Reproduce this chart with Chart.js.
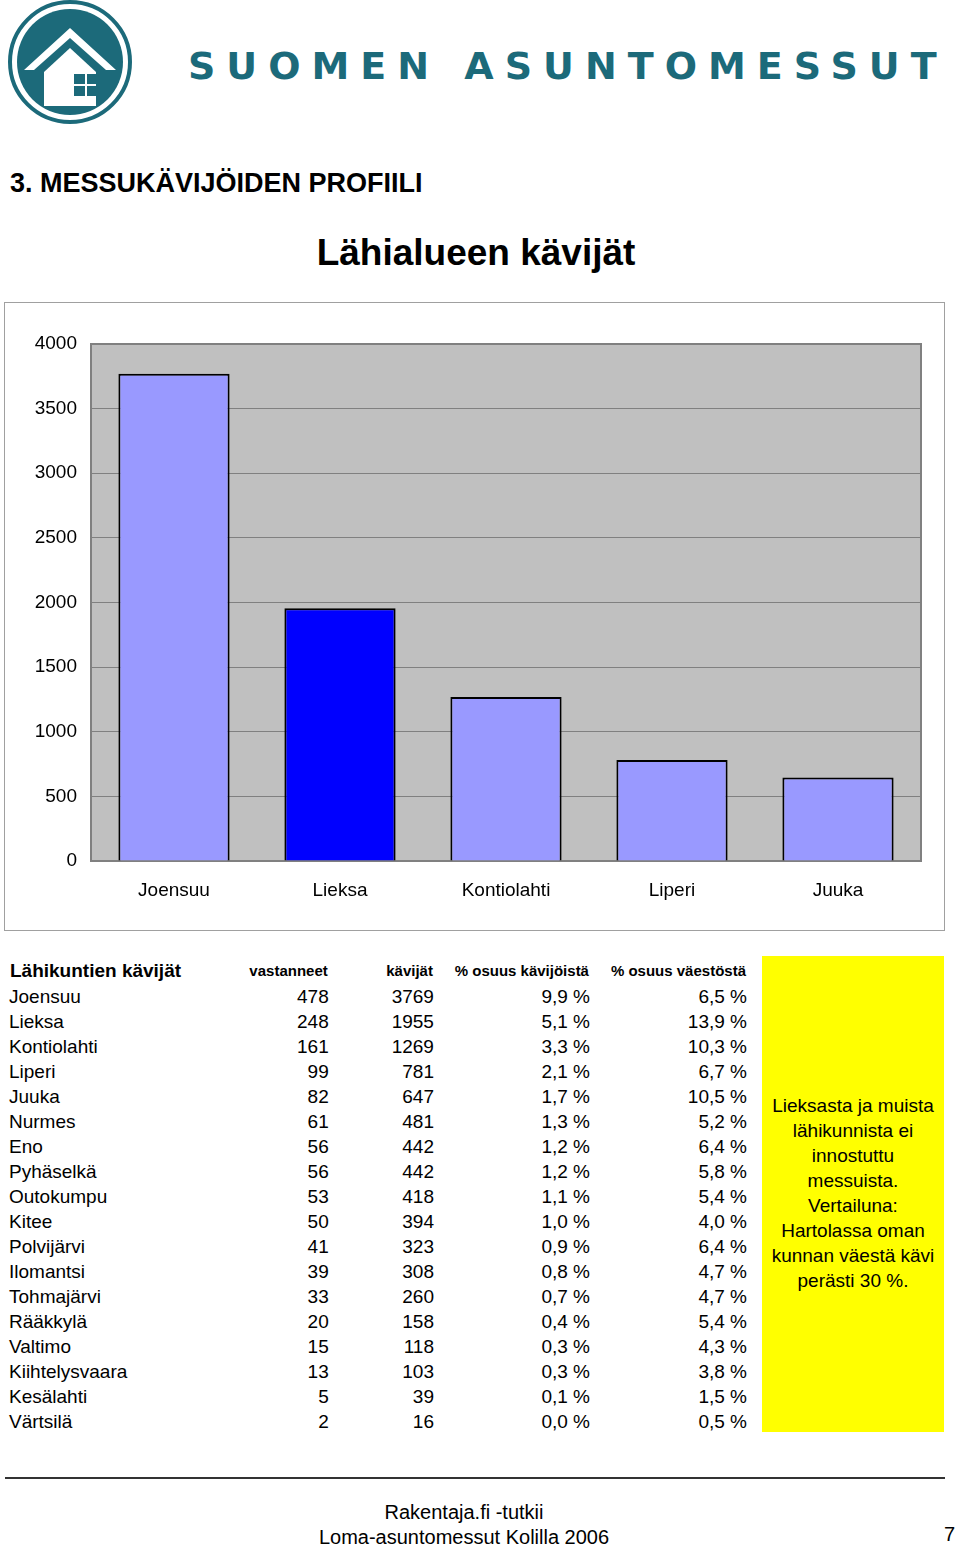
<!DOCTYPE html>
<html>
<head>
<meta charset="utf-8">
<script src="https://cdn.jsdelivr.net/npm/chart.js@4/dist/chart.umd.min.js"></script>
<style>
  body { margin: 0; width: 960px; height: 1545px; position: relative; background: #fff; font-family: "Liberation Sans", Arial, sans-serif; color: #000; overflow: hidden; }
  .abs { position: absolute; }
  #chartBox { left: 4px; top: 302px; width: 939px; height: 627px; border: 1px solid #a0a0a0; }
  table { border-collapse: collapse; }
  td { padding: 0; height: 25px; font-size: 19px; white-space: nowrap; }
  td.n { text-align: right; }
  th { font-size: 15px; text-align: right; font-weight: bold; height: 25px; white-space: nowrap; }
</style>
</head>
<body>
<svg class="abs" style="left:4px;top:0" width="140" height="126">
  <circle cx="66" cy="62" r="60" fill="#fff" stroke="#1c6a7a" stroke-width="4"/>
  <circle cx="66" cy="62" r="53" fill="#1c6a7a"/>
  <path d="M20 70 L66 28 L112 70 L102 70 L66 38 L30 70 Z" fill="#fff"/>
  <path d="M40 72 L66 48 L92 72 L92 106 L40 106 Z" fill="#fff"/>
  <rect x="70" y="74" width="11" height="10" fill="#1c6a7a"/><rect x="83" y="74" width="11" height="10" fill="#1c6a7a"/>
  <rect x="70" y="86" width="11" height="10" fill="#1c6a7a"/><rect x="83" y="86" width="11" height="10" fill="#1c6a7a"/>
</svg>
<div class="abs" style="left:188px;top:44px;font-size:38px;font-weight:bold;color:#1c6a7a;letter-spacing:11px;font-family:'DejaVu Sans',sans-serif;white-space:nowrap">SUOMEN ASUNTOMESSUT</div>
<div class="abs" style="left:10px;top:168px;font-size:27px;font-weight:bold">3. MESSUKÄVIJÖIDEN PROFIILI</div>
<div class="abs" style="left:0;width:952px;top:232px;font-size:37px;font-weight:bold;text-align:center">Lähialueen kävijät</div>
<div id="chartBox" class="abs"><canvas id="chart" width="939" height="627"></canvas></div>

<table class="abs" id="tbl" style="left:9px;top:957px;width:738px"></table>
<div class="abs" style="left:762px;top:956px;width:182px;height:476px;background:#ffff00"></div>
<div class="abs" style="left:766px;top:1093px;width:174px;text-align:center;font-size:19px;line-height:25px">Lieksasta ja muista lähikunnista ei innostuttu messuista.<br>Vertailuna: Hartolassa oman kunnan väestä kävi perästi 30 %.</div>

<div class="abs" style="left:5px;top:1477px;width:940px;height:2px;background:#333"></div>
<div class="abs" style="left:0;width:928px;top:1500px;text-align:center;font-size:20px;line-height:25px">Rakentaja.fi -tutkii<br>Loma-asuntomessut Kolilla 2006</div>
<div class="abs" style="left:944px;top:1523px;font-size:20px">7</div>

<script>
const categories = ["Joensuu", "Lieksa", "Kontiolahti", "Liperi", "Juuka"];
const visitors = [3769, 1955, 1269, 781, 647];
const barColors = ["#9999ff", "#0000ff", "#9999ff", "#9999ff", "#9999ff"];

const towns = ["Joensuu", "Lieksa", "Kontiolahti", "Liperi", "Juuka", "Nurmes", "Eno", "Pyhäselkä", "Outokumpu", "Kitee", "Polvijärvi", "Ilomantsi", "Tohmajärvi", "Rääkkylä", "Valtimo", "Kiihtelysvaara", "Kesälahti", "Värtsilä"];
const respondents = [478, 248, 161, 99, 82, 61, 56, 56, 53, 50, 41, 39, 33, 20, 15, 13, 5, 2];
const townVisitors = [3769, 1955, 1269, 781, 647, 481, 442, 442, 418, 394, 323, 308, 260, 158, 118, 103, 39, 16];
const shareOfVisitors = ["9,9 %", "5,1 %", "3,3 %", "2,1 %", "1,7 %", "1,3 %", "1,2 %", "1,2 %", "1,1 %", "1,0 %", "0,9 %", "0,8 %", "0,7 %", "0,4 %", "0,3 %", "0,3 %", "0,1 %", "0,0 %"];
const shareOfPopulation = ["6,5 %", "13,9 %", "10,3 %", "6,7 %", "10,5 %", "5,2 %", "6,4 %", "5,8 %", "5,4 %", "4,0 %", "6,4 %", "4,7 %", "4,7 %", "5,4 %", "4,3 %", "3,8 %", "1,5 %", "0,5 %"];

const tbl = document.getElementById("tbl");
let html = '<tr><th style="text-align:left;font-size:19px;width:200px">Lähikuntien kävijät</th><th style="width:119px">vastanneet</th><th style="width:106px">kävijät</th><th style="width:155px">% osuus kävijöistä</th><th style="width:156px">% osuus väestöstä</th></tr>';
towns.forEach((t, i) => {
  html += `<tr><td>${t}</td><td class="n">${respondents[i]}</td><td class="n">${townVisitors[i]}</td><td class="n">${shareOfVisitors[i]}</td><td class="n">${shareOfPopulation[i]}</td></tr>`;
});
tbl.innerHTML = html;

const plotBg = {
  id: "plotBg",
  beforeDraw(chart) {
    const a = chart.chartArea, c = chart.ctx;
    c.save();
    c.fillStyle = "#c0c0c0";
    c.fillRect(a.left, a.top, a.right - a.left, a.bottom - a.top);
    c.strokeStyle = "#808080";
    c.lineWidth = 2;
    c.strokeRect(a.left, a.top, a.right - a.left, a.bottom - a.top);
    c.restore();
  }
};

new Chart(document.getElementById("chart"), {
  type: "bar",
  data: {
    labels: categories,
    datasets: [{ data: visitors, backgroundColor: barColors, borderColor: "#000", borderWidth: 2, barPercentage: 0.67, categoryPercentage: 1 }]
  },
  options: {
    responsive: false,
    animation: false,
    layout: { padding: { top: 41, right: 23, left: 0, bottom: 0 } },
    plugins: { legend: { display: false }, tooltip: { enabled: false } },
    scales: {
      x: {
        grid: { display: false },
        border: { color: "#808080" },
        ticks: { color: "#000", font: { size: 19, family: "Liberation Sans" }, padding: 10 },
        afterFit: (s) => { s.height = 69; }
      },
      y: {
        min: 0, max: 4000,
        ticks: { stepSize: 500, color: "#000", font: { size: 19, family: "Liberation Sans" }, padding: 14, callback: (v) => String(v) },
        grid: { color: "#808080", drawTicks: false },
        border: { display: false },
        afterFit: (s) => { s.width = 86; }
      }
    }
  },
  plugins: [plotBg]
});
</script>
</body>
</html>
